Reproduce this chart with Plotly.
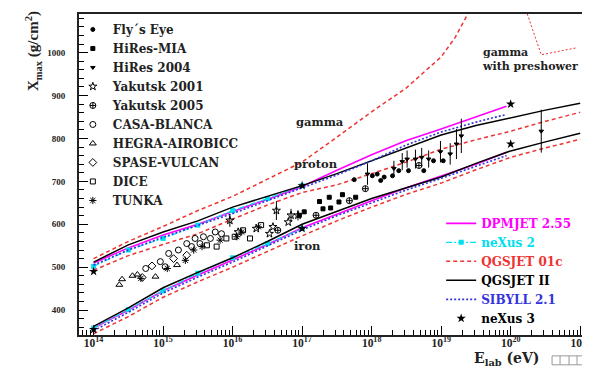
import numpy as np
import plotly.graph_objects as go

# ---------------- model curves (log10(E/eV) grid, Xmax in g/cm^2) ----------------
lgE_full = [14, 14.5, 15, 15.5, 16, 16.5, 17, 17.5, 18, 18.5, 19, 19.5, 20, 20.5, 21]
qgsII_p = [512, 552, 582, 608, 640, 665, 690, 718, 748, 778, 808, 830, 848, 866, 882]
qgsII_fe = [362, 405, 452, 488, 522, 560, 600, 630, 660, 685, 710, 742, 771, 792, 812]
qgs01_p = [493, 527, 553, 578, 612, 645, 674, 692, 718, 745, 775, 797, 817, 840, 861]
qgs01_fe = [345, 385, 430, 466, 500, 537, 573, 608, 640, 670, 696, 727, 756, 778, 798]

lgE_short = [14, 14.5, 15, 15.5, 16, 16.5, 17, 17.5, 18, 18.5, 19, 19.5, 19.94]
dpm_p = [510, 545, 575, 600, 630, 658, 688, 726, 762, 795, 822, 850, 875]
dpm_fe = [358, 400, 445, 482, 517, 553, 592, 624, 655, 685, 712, 740, 768]
sib_p = [505, 540, 570, 597, 625, 655, 685, 715, 748, 785, 815, 838, 856]
sib_fe = [352, 395, 440, 477, 512, 550, 587, 620, 650, 680, 707, 735, 760]

lgE_nex2 = [14, 14.5, 15, 15.5, 16, 16.5, 17]
nex2_p = [502, 540, 567, 598, 632, 660, 690]
nex2_fe = [358, 401, 445, 486, 522, 555, 590]

lgE_nex3 = [14, 17, 20]
nex3_p = [490, 690, 880]
nex3_fe = [355, 590, 787]

lgE_gamma = [14, 14.5, 15, 15.5, 16, 16.5, 17, 17.5, 18, 18.5, 19, 19.2, 19.45]
gamma = [520, 560, 595, 632, 665, 705, 745, 803, 862, 918, 990, 1035, 1110]
lgE_pre = [20.22, 20.44, 20.94]
gamma_pre = [1099, 995, 1011]

# ---------------- experimental data ----------------
fly_lgE = [17.75, 18.01, 18.08, 18.13, 18.18, 18.30, 18.39, 18.53, 18.75, 18.89, 19.03]
fly_X = [704, 713, 717, 702, 710, 713, 725, 725, 725, 748, 748]
mia_lgE = [16.96, 17.03, 17.25, 17.30, 17.39, 17.41, 17.53, 17.58, 17.77]
mia_X = [621, 629, 653, 636, 663, 638, 652, 669, 663]
hr04_lgE = [17.94, 18.32, 18.44, 18.51, 18.63, 18.72, 18.82, 18.99, 19.13, 19.22, 19.29, 20.44]
hr04_X = [717, 730, 746, 752, 752, 756, 752, 769, 764, 787, 806, 817]
hr04_err = [25, 18, 20, 20, 22, 22, 20, 25, 25, 35, 40, 50]
yak01_lgE = [15.96, 16.08, 16.34, 16.53, 16.58, 16.63, 16.80, 16.84, 16.94]
yak01_X = [609, 582, 590, 578, 594, 632, 605, 621, 621]
yak01_err = [15, 0, 0, 0, 0, 22, 0, 15, 12]
yak05_lgE = [16.65, 17.20, 17.68, 17.91, 18.68]
yak05_X = [586, 621, 655, 683, 737]
casa_lgE = [14.75, 14.96, 15.03, 15.08, 15.22, 15.34, 15.41, 15.46, 15.53, 15.58, 15.68, 15.75, 15.84]
casa_X = [497, 513, 501, 532, 540, 555, 548, 567, 555, 571, 567, 582, 578]
hegra_lgE = [14.37, 14.41, 14.56, 14.63, 14.89, 15.20]
hegra_X = [459, 472, 480, 483, 478, 505]
spase_lgE = [14.70, 14.84, 15.15, 15.34]
spase_X = [476, 503, 520, 528]
dice_lgE = [15.63, 15.77, 15.91, 16.03, 16.15, 16.25, 16.41]
dice_X = [551, 548, 567, 571, 586, 567, 598]
tunka_lgE = [14.68, 15.06, 15.32, 15.44, 15.56, 15.82, 16.06, 16.13, 16.37]
tunka_X = [474, 497, 516, 540, 548, 563, 571, 582, 594]

x_ticks_exp = [14, 15, 16, 17, 18, 19, 20, 21]
y_ticks = [400, 500, 600, 700, 800, 900, 1000]

E = lambda lg: np.power(10.0, np.asarray(lg, dtype=float))

SERIF = "DejaVu Serif"
TIMES = "Liberation Serif"
RED = "#ee3333"
MAG = "#ff00ff"
CYAN = "#00e0f0"
BLUE = "#3333dd"

fig = go.Figure()

# ---- model curves (legend 2) ----
def lbl(text, color):
    return f"<span style='color:{color}'>{text}</span>"

fig.add_trace(go.Scatter(x=E(lgE_short), y=dpm_p, mode="lines", line=dict(color=MAG, width=1.6),
                         name=lbl("DPMJET 2.55", MAG), legend="legend2", legendgroup="dpm"))
fig.add_trace(go.Scatter(x=E(lgE_short), y=dpm_fe, mode="lines", line=dict(color=MAG, width=1.6),
                         showlegend=False, legendgroup="dpm"))
fig.add_trace(go.Scatter(x=E(lgE_nex2), y=nex2_p, mode="lines+markers",
                         line=dict(color=CYAN, width=1.2, dash="6px,2px,2px,2px"),
                         marker=dict(symbol="square", size=5, color=CYAN),
                         name=lbl("neXus 2", CYAN), legend="legend2", legendgroup="nex2"))
fig.add_trace(go.Scatter(x=E(lgE_nex2), y=nex2_fe, mode="lines+markers",
                         line=dict(color=CYAN, width=1.2, dash="6px,2px,2px,2px"),
                         marker=dict(symbol="square", size=5, color=CYAN),
                         showlegend=False, legendgroup="nex2"))
fig.add_trace(go.Scatter(x=E(lgE_full), y=qgs01_p, mode="lines",
                         line=dict(color=RED, width=1.5, dash="4px,3px"),
                         name=lbl("QGSJET 01c", RED), legend="legend2", legendgroup="q01"))
fig.add_trace(go.Scatter(x=E(lgE_full), y=qgs01_fe, mode="lines",
                         line=dict(color=RED, width=1.5, dash="4px,3px"),
                         showlegend=False, legendgroup="q01"))
fig.add_trace(go.Scatter(x=E(lgE_gamma), y=gamma, mode="lines",
                         line=dict(color=RED, width=1.5, dash="4px,3px"),
                         showlegend=False, legendgroup="q01"))
fig.add_trace(go.Scatter(x=E(lgE_pre), y=gamma_pre, mode="lines",
                         line=dict(color=RED, width=1, dash="2px,2px"),
                         showlegend=False, legendgroup="q01"))
fig.add_trace(go.Scatter(x=E(lgE_full), y=qgsII_p, mode="lines", line=dict(color="black", width=1.5),
                         name=lbl("QGSJET II", "black"), legend="legend2", legendgroup="q2"))
fig.add_trace(go.Scatter(x=E(lgE_full), y=qgsII_fe, mode="lines", line=dict(color="black", width=1.5),
                         showlegend=False, legendgroup="q2"))
fig.add_trace(go.Scatter(x=E(lgE_short), y=sib_p, mode="lines",
                         line=dict(color=BLUE, width=1.6, dash="2px,2px"),
                         name=lbl("SIBYLL 2.1", BLUE), legend="legend2", legendgroup="sib"))
fig.add_trace(go.Scatter(x=E(lgE_short), y=sib_fe, mode="lines",
                         line=dict(color=BLUE, width=1.6, dash="2px,2px"),
                         showlegend=False, legendgroup="sib"))
fig.add_trace(go.Scatter(x=E(lgE_nex3), y=nex3_p, mode="markers",
                         marker=dict(symbol="star", size=7, color="black"),
                         name=lbl("neXus 3", "black"), legend="legend2", legendgroup="nex3"))
fig.add_trace(go.Scatter(x=E(lgE_nex3), y=nex3_fe, mode="markers",
                         marker=dict(symbol="star", size=7, color="black"),
                         showlegend=False, legendgroup="nex3"))

# ---- experimental data (legend 1), drawn on top ----
def data_trace(name, lg, X, symbol, size=5, err=None):
    t = go.Scatter(
        x=E(lg), y=X, mode="markers", name=name, legend="legend",
        marker=dict(symbol=symbol, size=size, color="black",
                    line=dict(color="black", width=1)),
    )
    if err is not None:
        t.error_y = dict(type="data", array=err, visible=True, width=0,
                         thickness=1, color="black")
    return t

fig.add_trace(data_trace("Fly\u00b4s Eye", fly_lgE, fly_X, "circle", 4))
fig.add_trace(data_trace("HiRes-MIA", mia_lgE, mia_X, "square", 4))
fig.add_trace(data_trace("HiRes 2004", hr04_lgE, hr04_X, "triangle-down", 4, hr04_err))
fig.add_trace(data_trace("Yakutsk 2001", yak01_lgE, yak01_X, "star-open", 6, yak01_err))
fig.add_trace(data_trace("Yakutsk 2005", yak05_lgE, yak05_X, "circle-cross-open", 6))
fig.add_trace(data_trace("CASA-BLANCA", casa_lgE, casa_X, "circle-open", 6))
fig.add_trace(data_trace("HEGRA-AIROBICC", hegra_lgE, hegra_X, "triangle-up-open", 6))
fig.add_trace(data_trace("SPASE-VULCAN", spase_lgE, spase_X, "diamond-open", 6))
fig.add_trace(data_trace("DICE", dice_lgE, dice_X, "square-open", 5))
fig.add_trace(data_trace("TUNKA", tunka_lgE, tunka_X, "asterisk-open", 6))

minor_x = [k * 10.0 ** n for n in range(13, 21) for k in range(2, 10)]

fig.update_layout(
    width=590, height=367,
    margin=dict(l=71, r=5, t=4, b=40),
    paper_bgcolor="white", plot_bgcolor="white",
    xaxis=dict(
        type="log", range=[13.79, 21.17],
        tickvals=[10.0 ** e for e in x_ticks_exp],
        ticktext=[f"10<sup>{e}</sup>" for e in x_ticks_exp],
        ticks="inside", ticklen=9, tickwidth=1, tickcolor="black",
        minor=dict(tickvals=minor_x, ticks="inside", ticklen=5, tickwidth=1, tickcolor="black"),
        showline=True, linewidth=2, linecolor="#222", mirror=True,
        showgrid=False, zeroline=False,
        tickfont=dict(family=TIMES, size=11.5, color="#222", weight="bold"),
        ticklabelstandoff=-4,
    ),
    yaxis=dict(
        range=[342, 1090],
        tickvals=y_ticks,
        ticks="inside", ticklen=9, tickwidth=1, tickcolor="black",
        minor=dict(dtick=20, ticks="inside", ticklen=5, tickwidth=1, tickcolor="black"),
        showline=True, linewidth=2, linecolor="#222", mirror=True,
        showgrid=False, zeroline=False,
        tickfont=dict(family=TIMES, size=9, color="#222", weight="bold"),
        ticklabelstandoff=10,
    ),
    legend=dict(
        x=-0.012, y=0.997, xanchor="left", yanchor="top",
        bgcolor="rgba(0,0,0,0)", borderwidth=0,
        font=dict(family=SERIF, size=12, color="#222", weight="bold"),
        tracegroupgap=0,
    ),
    legend2=dict(
        x=0.706, y=0.393, xanchor="left", yanchor="top",
        bgcolor="rgba(0,0,0,0)", borderwidth=0,
        font=dict(family=SERIF, size=12, color="#222", weight="bold"),
        tracegroupgap=0,
    ),
    showlegend=True,
)

ann_font = dict(family=SERIF, size=11.5, color="#222", weight="bold")
annotations = [
    dict(text="gamma", x=0.420, y=0.662, xanchor="left", yanchor="middle", font=ann_font),
    dict(text="proton", x=0.416, y=0.5325, xanchor="left", yanchor="middle", font=ann_font),
    dict(text="iron", x=0.416, y=0.2786, xanchor="left", yanchor="middle", font=ann_font),
    dict(text="gamma<br>with preshower", x=0.782, y=0.859, xanchor="left", yanchor="middle",
         align="left", font=dict(family=SERIF, size=11, color="#222", weight="bold")),
    dict(text="X<sub>max</sub> (g/cm<sup>2</sup>)", x=-0.0895, y=0.885, textangle=-90,
         xanchor="center", yanchor="middle",
         font=dict(family=TIMES, size=15, color="#222", weight="bold")),
    dict(text="E<sub>lab</sub> (eV)", x=0.835, y=-0.074, xanchor="center", yanchor="middle",
         font=dict(family=SERIF, size=14, color="#222", weight="bold")),
]
for a in annotations:
    a.update(xref="paper", yref="paper", showarrow=False)
fig.update_layout(annotations=annotations)

# small decorative box at the lower right corner
bx0, bx1 = (545 - 71) / 514, (590 - 71) / 514
by0, by1 = (327 - 357) / 323, (327 - 348) / 323
shapes = [dict(type="rect", xref="paper", yref="paper", x0=bx0, x1=bx1, y0=by0, y1=by1,
               line=dict(color="#999", width=1))]
for px in [553, 562, 570, 578]:
    xp = (px - 71) / 514
    shapes.append(dict(type="line", xref="paper", yref="paper", x0=xp, x1=xp, y0=by0, y1=by1,
                       line=dict(color="#999", width=1)))
fig.update_layout(shapes=shapes)

fig.write_html("out.html")
